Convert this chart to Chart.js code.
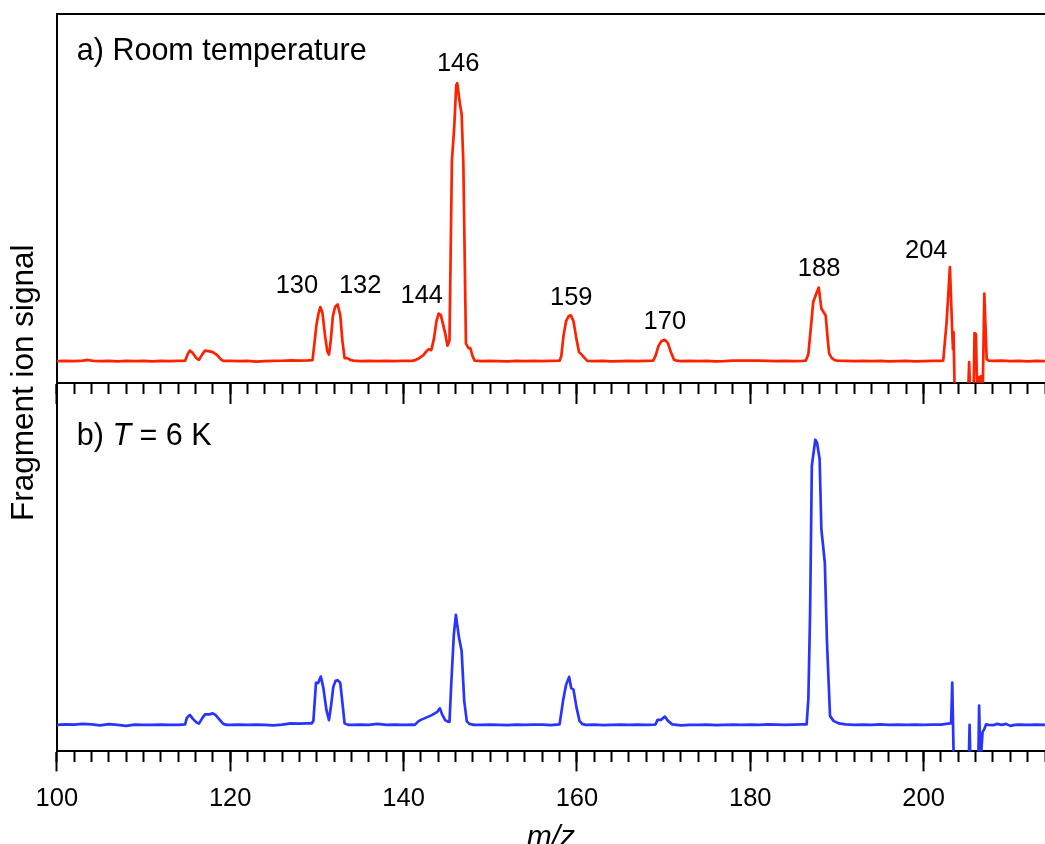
<!DOCTYPE html>
<html>
<head>
<meta charset="utf-8">
<script src="https://cdn.jsdelivr.net/npm/chart.js@4/dist/chart.umd.min.js"></script>
<style>
  html, body { margin: 0; padding: 0; background: #fff; overflow: hidden; }
  #wrap { width: 1045px; height: 863px; }
</style>
</head>
<body>
<div id="wrap"><canvas id="c" width="1045" height="863"></canvas></div>
<script>
// ---- data (x: m/z, y: signal, arbitrary units, baseline = 0) ----
const roomMz = [100,101,102,103,103.6,104.2,105,106,107,108,109,110,111,112,113,114,114.8,
  115.1,115.35,115.7,116.1,116.4,116.8,117.1,117.5,118.0,118.5,118.9,119.2,
  120,121,122,123,124,125,126,127,128,129,129.5,
  129.75,129.95,130.2,130.4,130.65,130.95,131.2,131.4,131.6,131.85,132.1,132.4,132.7,132.95,133.2,133.5,133.8,134.2,
  135,136,137,138,139,140,141,
  141.3,141.8,142.3,142.6,142.9,143.2,143.5,143.8,144.05,144.3,144.55,144.8,145.07,145.3,
  145.58,145.85,146.08,146.2,146.5,146.7,146.9,147.2,147.5,147.7,147.96,148.2,
  149,150,151,152,153,154,155,156,157,158,
  158.2,158.45,158.75,159.05,159.3,159.6,159.95,160.25,160.6,160.9,161.2,
  162,163,164,165,166,167,168,168.8,
  169.1,169.4,169.75,170.15,170.5,170.8,171.2,171.5,
  172,173,174,175,176,177,178,179,180,181,182,183,184,185,186,186.4,
  186.7,186.95,187.26,187.6,187.9,188.2,188.45,188.7,188.9,189.1,189.4,189.7,
  190,191,192,193,194,195,196,197,198,199,200,201,202,202.26,
  202.65,203.03,203.3,203.38,203.45,203.6,205.1,205.25,205.4,205.75,205.87,206.03,206.2,206.4,206.65,206.8,207.0,207.27,207.5,
  208,209,210,211,212,213,214];
const roomSignal = [0,0.3,0,0.5,1.2,0.3,0,0.3,-0.3,0.2,0,0.2,-0.2,0.3,0,0.2,0.5,
  7,10.5,8,3,1.3,7,10.5,10,9,6,2,0.3,
  0.2,0,0.2,-0.5,0,0.3,0.4,0.8,0.6,0.8,1,
  20,36,48,54,48,25,10,6.5,20,45,54,56.5,46,20,3,3,1.5,0.5,
  0,0.3,0,0.3,0,0.4,0.3,
  1,3,6,9.5,12,11,22,40,47.5,46,37,28,15.5,20.5,
  200,234,275.5,277.5,257,247,197,17.5,13,13,5,0.5,
  0,0.3,0,-0.3,0.2,0,0.3,0,0.3,0.5,
  5,25,40,45,45.7,40,22,9,6,3,0.3,
  0,0.3,-0.3,0,0.3,0,0.2,0.5,
  6,15,20,21.3,18,10,1.5,0.5,
  0,0.3,0,0.2,-0.3,0,0.5,0.5,0.6,0.5,0.3,0,0.2,0,0.3,0.5,
  7,30,59,67,73.4,52.5,49,45.5,25,7.5,3,1.2,
  0.5,0.2,0,0.3,0,0.3,-0.3,0,0.2,-0.3,0,0.3,0.3,0.5,
  39,94,29,12,29,-40,-40,-1,-40,-40,28,27,-40,-16,-15,-40,67.5,2,0.5,
  0.2,0.5,0,0.3,-0.3,0.2,0];

const coldMz = [100,101,102,103,104,105,106,107,108,109,110,111,112,113,114,114.8,
  115.0,115.35,115.7,116.1,116.4,116.8,117.1,117.6,118.0,118.3,118.7,119.2,119.6,
  120,121,122,123,124,125,126,127,128,128.8,129.4,129.6,
  129.9,130.15,130.46,130.75,131.1,131.4,131.65,131.9,132.15,132.4,132.7,132.95,133.2,133.6,
  134,135,136,137,138,139,140,141,
  141.3,141.7,142.0,142.4,142.8,143.2,143.6,143.9,144.1,144.2,144.45,144.8,145.1,145.3,
  145.5,145.8,146.04,146.4,146.7,147.0,147.3,147.6,148.1,
  149,150,151,152,153,154,155,156,157,158,
  158.4,158.75,159.1,159.35,159.6,159.95,160.3,160.6,161,
  162,163,164,165,166,167,168,169,
  169.1,169.3,169.7,170.15,170.5,171.0,
  172,173,174,175,176,177,178,179,180,181,182,183,184,185,186,186.5,
  186.7,186.9,187.1,187.5,187.7,188.0,188.2,188.6,188.85,189.2,189.6,190.2,191,
  192,193,194,195,196,197,198,199,200,201,202,203.0,203.17,
  203.3,203.48,205.2,205.3,205.4,206.3,206.4,206.55,206.8,206.95,207.2,207.5,208,
  208.5,209,209.5,210,210.5,211,212,213,214];
const coldSignal = [0,0.5,0.3,1,0.5,-0.5,0.8,0,-1,0.3,0,0,0.3,0,0,0.5,
  7,10,6,2.5,1.3,7,10.5,10.5,11.5,10,6,1,0,
  0,0.3,0,0.2,0,-0.5,0.2,1.5,1.2,1.5,1.5,4,
  42,42,48.3,37,15,4.7,20,38,44,44.7,42,22,1.5,0,
  0,0.2,0,1,0,0.3,0,0.3,
  0,3.5,5,6.5,8,9.5,11.5,13,15.7,16.5,10.5,4.7,3.3,3,
  40,90,110,87,74,24,3.5,1,0,
  0,0.3,0,-0.3,0.3,0,0.2,0.3,-0.3,0.5,
  24,40,48,36.5,35.5,17.5,4,1,0,
  0.2,-0.3,0,0.2,0,0.3,0,0.3,
  1,5,5,8.3,4,0.5,
  -0.5,0,0,0.2,-0.3,0,0.2,0,0.3,0,0.5,0.2,0,0.2,0.5,0.5,
  25.7,112,259,285,282,265.7,195.7,162.3,82.3,9,4,1.5,0.5,
  0,0.3,0,0.5,0,0.3,0,0.2,0,0.3,0.3,1.5,1.5,
  42.3,-40,-40,0,-40,-40,19.3,-40,-7,-5,0.5,0,-0.3,
  1,0,1,-1,0,0.3,0,0.2,0];

// x axis: major ticks with labels, minor ticks every 2
const xMajorTicks = [100, 120, 140, 160, 180, 200];
const xMin = 100, xMax = 214, xMinorStep = 2;

// peak annotations in the upper panel (text, m/z, signal at text baseline)
const peakText = ['130', '132', '144', '146', '159', '170', '188', '204'];
const peakMz   = [127.7, 135.0, 142.1, 146.3, 159.35, 170.15, 187.94, 200.3];
const peakVal  = [67.7, 67.7, 57.7, 289.7, 55.7, 31.7, 84.7, 103.4];

// vertical ranges of the two panels
const topRange = [-21.5, 346.5];
const botRange = [-26.5, 342];

const FONT = '"Liberation Sans", Arial, Helvetica, sans-serif';

function pts(xs, ys) { return xs.map((v, i) => ({x: v, y: ys[i]})); }

const annotPlugin = {
  id: 'annot',
  afterDatasetsDraw(chart) {
    const {ctx, chartArea, scales} = chart;
    const x = scales.x, yT = scales.yTop, yB = scales.yBot;
    ctx.save();
    ctx.fillStyle = '#000';
    ctx.textBaseline = 'alphabetic';
    ctx.textAlign = 'center';
    ctx.font = '25.5px ' + FONT;
    peakText.forEach((t, i) => {
      ctx.fillText(t, x.getPixelForValue(peakMz[i]), yT.getPixelForValue(peakVal[i]));
    });
    ctx.textAlign = 'left';
    ctx.font = '30.5px ' + FONT;
    ctx.fillText('a) Room temperature', chartArea.left + 20, yT.top + 46);
    let px = chartArea.left + 20;
    const py = yB.top + 62;
    const parts = [['b) ', 'normal'], ['T', 'italic'], [' = 6 K', 'normal']];
    parts.forEach(([s, st]) => {
      ctx.font = (st === 'italic' ? 'italic ' : '') + '30.5px ' + FONT;
      ctx.fillText(s, px, py);
      px += ctx.measureText(s).width;
    });
    ctx.restore();
  }
};

const tickGrid = (len) => ({
  display: true, drawOnChartArea: false, drawTicks: true,
  tickLength: len, tickWidth: 2, tickColor: '#000', color: '#000'
});
const blackBorder = {display: true, color: '#000', width: 2};

new Chart(document.getElementById('c'), {
  type: 'line',
  data: {
    datasets: [
      {label: 'Room temperature', data: pts(roomMz, roomSignal), xAxisID: 'x', yAxisID: 'yTop',
       borderColor: '#ff2200', borderWidth: 2.7, pointRadius: 0, tension: 0, fill: false, borderJoinStyle: 'round'},
      {label: 'T = 6 K', data: pts(coldMz, coldSignal), xAxisID: 'x', yAxisID: 'yBot',
       borderColor: '#2a34ff', borderWidth: 2.7, pointRadius: 0, tension: 0, fill: false, borderJoinStyle: 'round'}
    ]
  },
  options: {
    responsive: false,
    animation: false,
    devicePixelRatio: 1,
    layout: {padding: {top: 14, left: 0, right: 0, bottom: 0}},
    plugins: {
      legend: {display: false},
      tooltip: {enabled: false},
      title: {
        display: true, text: 'Fragment ion signal', position: 'left', fullSize: false,
        color: '#000', font: {family: FONT, size: 31.5, weight: 'normal', lineHeight: 1.2},
        padding: {top: 5, bottom: 14}
      }
    },
    scales: {
      x: {
        type: 'linear', position: 'bottom', min: xMin, max: xMax,
        afterBuildTicks: (s) => { s.ticks = xMajorTicks.map(v => ({value: v})); },
        grid: tickGrid(20), border: blackBorder,
        ticks: {color: '#000', font: {family: FONT, size: 25.5}, padding: 12, autoSkip: false, maxRotation: 0},
        title: {display: true, text: 'm/z', color: '#000',
          font: {family: FONT, size: 30, style: 'italic', lineHeight: 1}, padding: {top: -3, bottom: 10}}
      },
      xMinorBot: {
        axis: 'x', type: 'linear', position: {yBot: botRange[0]}, min: xMin, max: xMax,
        grid: tickGrid(10), border: blackBorder,
        ticks: {display: false, stepSize: xMinorStep, autoSkip: false, includeBounds: false}
      },
      xMidMajor: {
        axis: 'x', type: 'linear', position: {yTop: topRange[0]}, min: xMin, max: xMax,
        afterBuildTicks: (s) => { s.ticks = xMajorTicks.map(v => ({value: v})); },
        grid: tickGrid(20), border: blackBorder,
        ticks: {display: false, autoSkip: false}
      },
      xMidMinor: {
        axis: 'x', type: 'linear', position: {yTop: topRange[0]}, min: xMin, max: xMax,
        grid: tickGrid(10), border: blackBorder,
        ticks: {display: false, stepSize: xMinorStep, autoSkip: false, includeBounds: false}
      },
      xTopLine: {
        axis: 'x', type: 'linear', position: {yTop: topRange[1]}, min: xMin, max: xMax,
        grid: {display: false, drawTicks: false}, border: blackBorder,
        ticks: {display: false}
      },
      yBot: {
        type: 'linear', position: 'left', stack: 'panels', stackWeight: 1, weight: 0,
        min: botRange[0], max: botRange[1],
        grid: {display: false, drawTicks: false}, border: blackBorder, ticks: {display: false}
      },
      yTop: {
        type: 'linear', position: 'left', stack: 'panels', stackWeight: 1, weight: 1,
        min: topRange[0], max: topRange[1],
        grid: {display: false, drawTicks: false}, border: blackBorder, ticks: {display: false}
      }
    }
  },
  plugins: [annotPlugin]
});
</script>
</body>
</html>
